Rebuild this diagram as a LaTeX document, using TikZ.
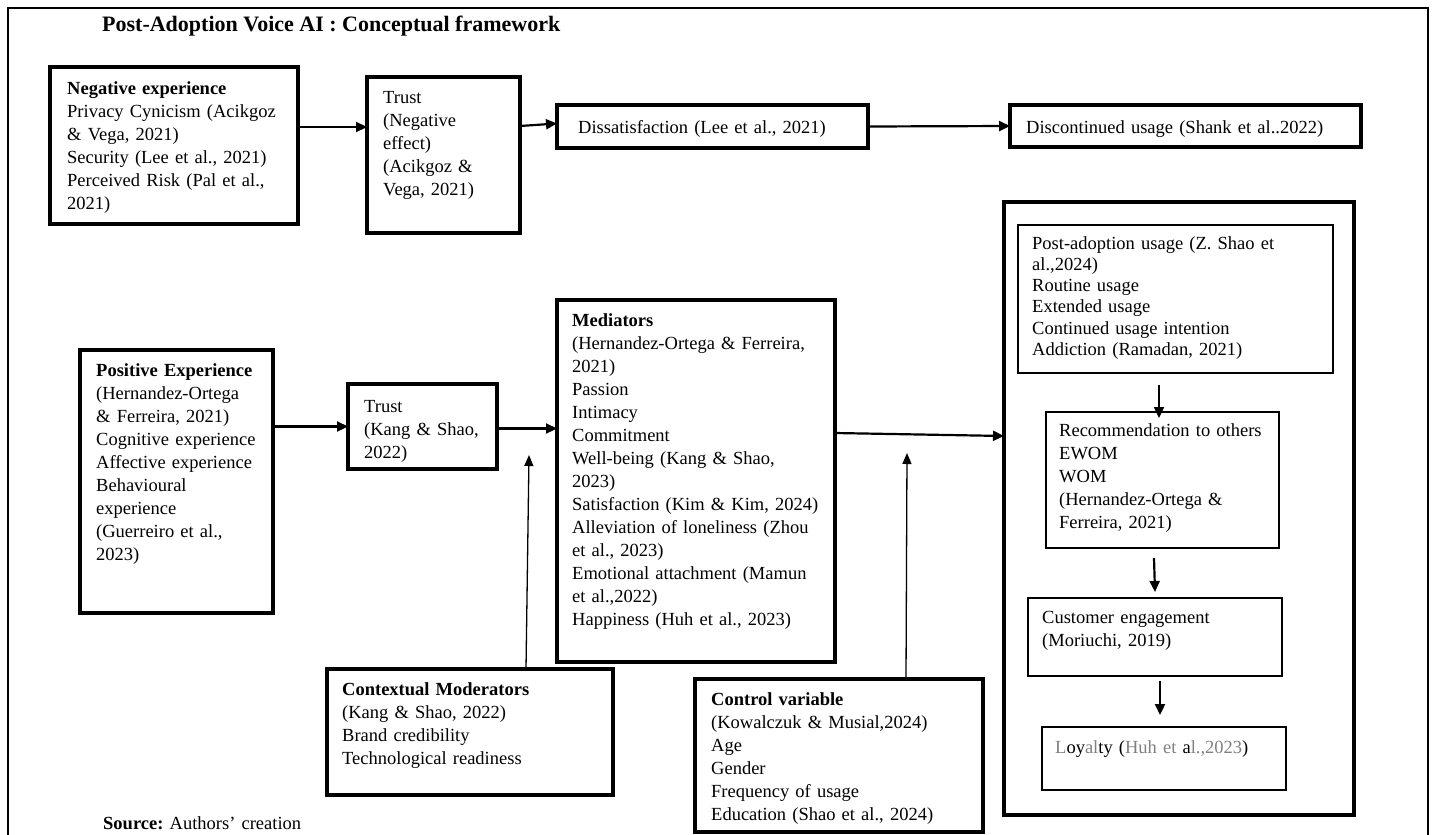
\documentclass[tikz,border=0pt]{standalone}
\usepackage{fontspec}
\setmainfont{Liberation Serif}
\usetikzlibrary{arrows.meta}
\newcommand\fs{\fontsize{18.5pt}{23pt}\selectfont}
\newcommand\fsp{\fontsize{18.5pt}{21.3pt}\selectfont}
\begin{document}
\begin{tikzpicture}[x=1pt,y=-1pt,
  bx/.style={draw, line width=3.2pt, inner sep=0pt, outer sep=0pt, anchor=north west},
  thinbx/.style={draw, line width=1.4pt, inner sep=0pt, outer sep=0pt, anchor=north west},
  sz/.style 2 args={minimum width=#1pt, minimum height=#2pt},
  txt/.style={anchor=base west, inner sep=0pt, align=left, text width=330pt, font=\fs},
  arr/.style={line width=2.2pt, -{Triangle[length=11pt,width=10pt]}},
  thinarr/.style={line width=1.3pt, -{Triangle[length=11pt,width=9pt]}},
]
\fill[white] (0,0) rectangle (1432,835);
\useasboundingbox (0,0) rectangle (1432,835);
% outer frame
\draw[line width=2pt] (8,840) -- (8,8) -- (1428,8) -- (1428,840);

% title
\node[anchor=base west, inner sep=0pt, font=\fontsize{22pt}{26pt}\selectfont\bfseries] (title) at (102,31) {Post-Adoption Voice AI : Conceptual framework};

% boxes
\node[bx, sz={248}{157}] (neg) at (50,67) {};
\node[bx, sz={153}{156}] (trustN) at (367,77) {};
\node[bx, sz={311}{43}] (dis) at (557,105) {};
\node[bx, sz={351}{42}] (disc) at (1010,105) {};
\node[bx, sz={193}{263}] (pos) at (80,350) {};
\node[bx, sz={149}{85}] (trustP) at (348,384) {};
\node[bx, sz={278}{362}] (med) at (557,300) {};
\node[bx, sz={286}{126}] (mod) at (327,669) {};
\node[bx, sz={288}{153}] (ctrl) at (695,679) {};
\node[bx, sz={350}{613}] (big) at (1004,202) {};
\node[thinbx, sz={315}{148}] (post) at (1018,225) {};
\node[thinbx, sz={233}{136}] (rec) at (1046,412) {};
\node[thinbx, sz={254}{78}] (ce) at (1028,598) {};
\node[thinbx, sz={244}{63}] (loy) at (1042,727) {};

% texts
\node[txt] (negT) at (67,94) {\textbf{Negative experience}\\Privacy Cynicism (Acikgoz\\\& Vega, 2021)\\Security (Lee et al., 2021)\\Perceived Risk (Pal et al.,\\2021)};
\node[txt] (trustNT) at (383,103) {Trust\\(Negative\\effect)\\(Acikgoz \&\\Vega, 2021)};
\node[txt] (disT) at (578,133) {Dissatisfaction (Lee et al., 2021)};
\node[txt] (discT) at (1026,133) {Discontinued usage (Shank et al..2022)};
\node[txt] (posT) at (96,376) {\textbf{Positive Experience}\\(Hernandez-Ortega\\\& Ferreira, 2021)\\Cognitive experience\\Affective experience\\Behavioural\\experience\\(Guerreiro et al.,\\2023)};
\node[txt] (trustPT) at (364,412) {Trust\\(Kang \& Shao,\\2022)};
\node[txt] (medT) at (572,326) {\textbf{Mediators}\\(Hernandez-Ortega \& Ferreira,\\2021)\\Passion\\Intimacy\\Commitment\\Well-being (Kang \& Shao,\\2023)\\Satisfaction (Kim \& Kim, 2024)\\Alleviation of loneliness (Zhou\\et al., 2023)\\Emotional attachment (Mamun\\et al.,2022)\\Happiness (Huh et al., 2023)};
\node[txt] (modT) at (342,695) {\textbf{Contextual Moderators}\\(Kang \& Shao, 2022)\\Brand credibility\\Technological readiness};
\node[txt] (ctrlT) at (711,705) {\textbf{Control variable}\\(Kowalczuk \& Musial,2024)\\Age\\Gender\\Frequency of usage\\Education (Shao et al., 2024)};
\node[txt, font=\fsp] (postT) at (1032,249) {Post-adoption usage (Z. Shao et\\al.,2024)\\Routine usage\\Extended usage\\Continued usage intention\\Addiction (Ramadan, 2021)};
\node[txt] (recT) at (1059,436) {Recommendation to others\\EWOM\\WOM\\(Hernandez-Ortega \&\\Ferreira, 2021)};
\node[txt] (ceT) at (1042,623) {Customer engagement\\(Moriuchi, 2019)};
\node[txt] (loyT) at (1055,753) {{\color{gray}L}oy{\color{gray}al}ty ({\color{gray}Huh et} a{\color{gray}l.,2023})};
\node[txt] (src) at (103,829) {\textbf{Source:}~Authors’ creation};

% connectors
\draw[arr] ([yshift=18.5pt]neg.east) -- ([yshift=28pt]trustN.west);
\draw[arr] ([yshift=29pt]trustN.east) -- ([yshift=3pt]dis.west);
\draw[arr] (dis.east) -- (disc.west);
\draw[arr] (trustP.west -| pos.east) -- (trustP.west);
\draw[arr] ([yshift=-2pt]trustP.east) -- ([yshift=-2pt]trustP.east -| med.west);
\draw[arr] ([yshift=48pt]med.east) -- ([yshift=72.5pt]big.west);
\coordinate (modtip) at (529,455);
\coordinate (ctrltip) at (907,453);
\draw[thinarr] ([xshift=56pt]mod.north) -- (modtip);
\draw[thinarr] ([xshift=67pt]ctrl.north) -- (ctrltip);
\draw[arr] ([xshift=-16.5pt,yshift=-12pt]post.south) -- ([xshift=-3.5pt,yshift=-6pt]rec.north);
\draw[arr] ([xshift=-8.5pt,yshift=-10pt]rec.south) -- ([yshift=6pt]ce.north);
\draw[arr] ([xshift=5pt,yshift=-5pt]ce.south) -- ([xshift=-4pt,yshift=12pt]loy.north);
\end{tikzpicture}
\end{document}
